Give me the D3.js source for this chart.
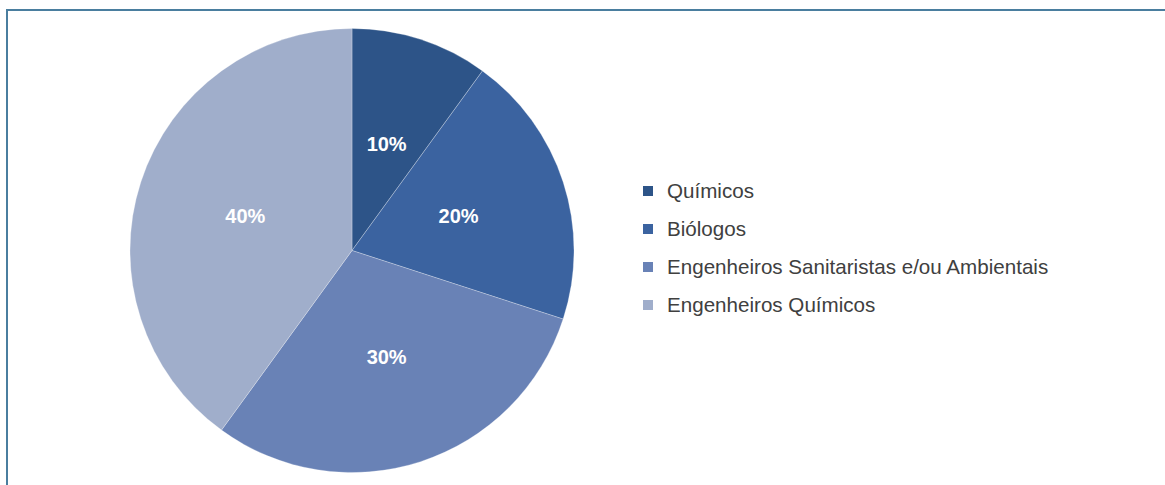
<!DOCTYPE html>
<html>
<head>
<meta charset="utf-8">
<script src="https://cdn.jsdelivr.net/npm/d3@7"></script>
<style>
  body { margin: 0; background: #fff; }
  svg { display: block; font-family: "Liberation Sans", Arial, sans-serif; }
</style>
</head>
<body>
<div class="chart"></div>
<script>
var categories = ["Químicos", "Biólogos", "Engenheiros Sanitaristas e/ou Ambientais", "Engenheiros Químicos"];
var values = [10, 20, 30, 40];
var colors = ["#2d5488", "#3b63a0", "#6982b6", "#a0aecb"];

var width = 1165, height = 485;
var cx = 352, cy = 250.5, radius = 222;

var svg = d3.select(".chart").append("svg")
    .attr("width", width)
    .attr("height", height);

// frame (only top and left visible)
svg.append("path")
    .attr("d", "M7,485 L7,10 L1165,10")
    .attr("fill", "none")
    .attr("stroke", "#4a7e9f")
    .attr("stroke-width", 2);

var pie = d3.pie().sort(null).value(function(d) { return d; });
var arc = d3.arc().innerRadius(0).outerRadius(radius);
var labelArc = d3.arc().innerRadius(radius * 0.505).outerRadius(radius * 0.505);

var g = svg.append("g")
    .attr("transform", "translate(" + cx + "," + cy + ")");

var slices = g.selectAll(".slice")
    .data(pie(values))
    .enter().append("g")
    .attr("class", "slice");

slices.append("path")
    .attr("d", arc)
    .attr("fill", function(d, i) { return colors[i]; })
    .attr("stroke", "rgba(255,255,255,0.45)")
    .attr("stroke-width", 0.6);

slices.append("text")
    .attr("transform", function(d) { return "translate(" + labelArc.centroid(d) + ")"; })
    .attr("text-anchor", "middle")
    .attr("dy", "0.36em")
    .style("font-size", "20px")
    .style("font-weight", "bold")
    .style("fill", "#fff")
    .text(function(d) { return d.data + "%"; });

var legend = svg.selectAll(".legend")
    .data(categories)
    .enter().append("g")
    .attr("class", "legend")
    .attr("transform", function(d, i) { return "translate(643," + (191 + i * 38) + ")"; });

legend.append("rect")
    .attr("x", 0)
    .attr("y", -5)
    .attr("width", 10)
    .attr("height", 10)
    .attr("fill", function(d, i) { return colors[i]; });

legend.append("text")
    .attr("x", 24)
    .attr("dy", "0.36em")
    .style("font-size", "20.6px")
    .style("fill", "#404040")
    .text(function(d) { return d; });
</script>
</body>
</html>
